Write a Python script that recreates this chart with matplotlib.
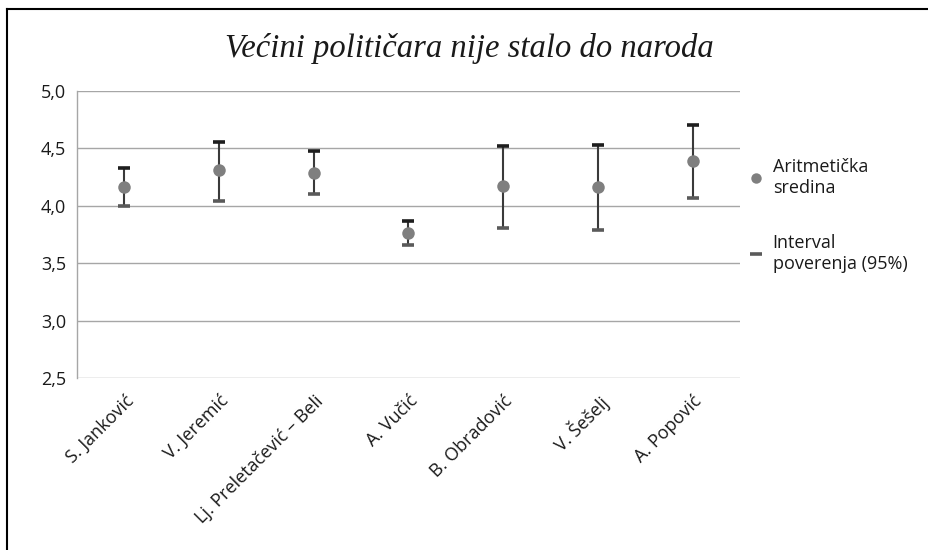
import matplotlib
matplotlib.use("Agg")
import matplotlib.pyplot as plt
from matplotlib.lines import Line2D

categories = ["S. Janković", "V. Jeremić", "Lj. Preletačević – Beli", "A. Vučić",
              "B. Obradović", "V. Šešelj", "A. Popović"]
means = [4.16, 4.31, 4.29, 3.76, 4.17, 4.16, 4.39]
upper = [4.325, 4.56, 4.48, 3.87, 4.52, 4.53, 4.70]
lower = [3.995, 4.045, 4.10, 3.66, 3.81, 3.79, 4.07]
yticks = [2.5, 3.0, 3.5, 4.0, 4.5, 5.0]
ytick_labels = ["2,5", "3,0", "3,5", "4,0", "4,5", "5,0"]
title = "Većini političara nije stalo do naroda"
legend_labels = ["Aritmetička\nsredina", "Interval\npoverenja (95%)"]

W, H = 929, 550
fig = plt.figure(figsize=(W / 100, H / 100), dpi=100)
fig.patch.set_facecolor("white")

left, right, top, bottom = 77, 740, 91, 378
ax = fig.add_axes([left / W, 1 - bottom / H, (right - left) / W, (bottom - top) / H])

font = "Open Sans"
fs = 13
x = list(range(len(categories)))

ax.vlines(x, lower, upper, color="#3a3a3a", linewidth=1.5, zorder=2)
ax.plot(x, upper, linestyle="none", marker="_", markersize=9, markeredgewidth=2.6,
        color="#1e1e1e", zorder=3)
ax.plot(x, lower, linestyle="none", marker="_", markersize=9, markeredgewidth=2.6,
        color="#5a5a5a", zorder=3)
ax.plot(x, means, linestyle="none", marker="o", markersize=9, color="#7f7f7f",
        markeredgewidth=0, zorder=4)

ax.set_xlim(-0.5, len(categories) - 0.5)
ax.set_ylim(2.5, 5.0)
ax.set_yticks(yticks)
ax.set_yticklabels(ytick_labels, fontsize=fs, family=font, color="#1a1a1a")
ax.set_xticks(x)
ax.set_xticklabels(categories, rotation=45, ha="right", rotation_mode="anchor",
                   fontsize=fs, family=font, color="#1a1a1a")
ax.tick_params(axis="both", length=0, pad=8)
ax.tick_params(axis="x", pad=10)
ax.grid(axis="y", color="#a6a6a6", linewidth=1.0)
ax.set_axisbelow(True)
for s in ["top", "right", "bottom"]:
    ax.spines[s].set_visible(False)
ax.spines["left"].set_color("#a6a6a6")
ax.spines["left"].set_linewidth(1.0)

fig.text(0.5 * (227 + 712) / W, 1 - 49 / H, title, ha="center", va="center",
         fontsize=23.5, family="Liberation Serif", style="italic", color="#1a1a1a")

handles = [
    Line2D([], [], linestyle="none", marker="o", markersize=7.5, color="#7f7f7f",
           markeredgewidth=0),
    Line2D([], [], linestyle="none", marker="_", markersize=8, markeredgewidth=2.6,
           color="#5a5a5a"),
]
fig.legend(handles, legend_labels, loc="upper left",
           bbox_to_anchor=(733 / W, 1 - 142 / H), frameon=False,
           prop={"family": font, "size": fs}, labelspacing=2.05,
           handlelength=0.8, handletextpad=0.5, labelcolor="#1a1a1a")

# outer border: only the left and top edges fall inside the image
fig.add_artist(Line2D([7 / W, 7 / W], [0, 1 - 9 / H], transform=fig.transFigure,
                      color="black", linewidth=1.5))
fig.add_artist(Line2D([7 / W, 1], [1 - 9 / H, 1 - 9 / H], transform=fig.transFigure,
                      color="black", linewidth=1.5))

fig.savefig("out.png", dpi=100, facecolor="white")
